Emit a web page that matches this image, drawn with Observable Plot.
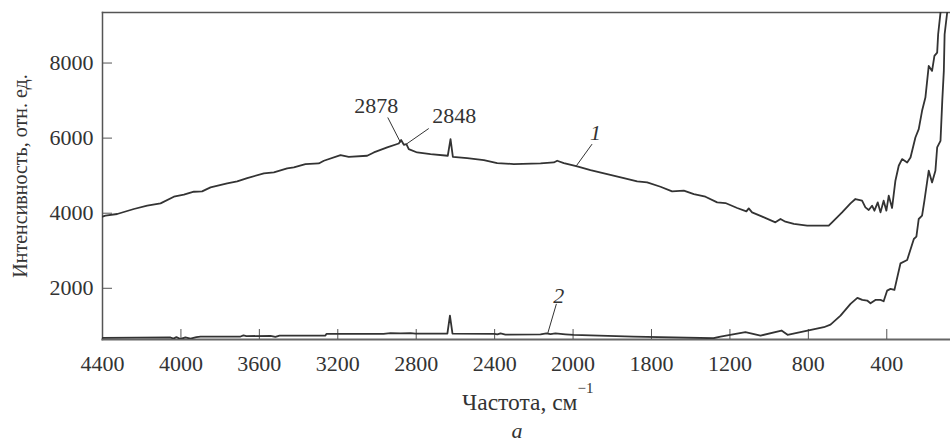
<!DOCTYPE html>
<html><head><meta charset="utf-8">
<script src="https://cdn.jsdelivr.net/npm/d3@7"></script>
<script src="https://cdn.jsdelivr.net/npm/@observablehq/plot@0.6"></script>
<style>
html,body{margin:0;padding:0;background:#fff}
svg{display:block}
#chart svg, #chart svg text{font-family:"Liberation Serif","Times New Roman",serif !important}
#caption{box-sizing:border-box;width:950px;height:22px;padding-left:84px;text-align:center;
  font:italic 22px/22px "Liberation Serif","Times New Roman",serif;color:#333}
</style>
</head><body><div id="chart"></div><div id="caption"></div>
<script>
// Tick values and their printed labels (the original prints "1800" at the 1600 position)
const xTicks = [4400, 4000, 3600, 3200, 2800, 2400, 2000, 1600, 1200, 800, 400];
const xTickLabels = ["4400", "4000", "3600", "3200", "2800", "2400", "2000", "1800", "1200", "800", "400"];
const yTicks = [2000, 4000, 6000, 8000];

// Curve 1: wavenumber (cm-1) and intensity
const curve1Wave = [4400,4385,4325,4240,4172,4104,4036,3985,3934,3892,3849,3764,3713,3662,3577,3526,3458,3424,3365,3297,3271,3186,3144,3050,3016,2948,2889,2877,2863,2850,2838,2795,2727,2639,2625,2613,2540,2455,2387,2302,2166,2098,2081,2047,1979,1911,1826,1741,1673,1622,1554,1495,1435,1384,1325,1265,1223,1163,1116,1104,1087,1035,968,942,917,874,806,696,679,628,585,560,526,509,492,475,463,446,432,416,402,390,373,356,339,322,296,279,254,237,220,203,186,169,157,143,138,126,116];
const curve1Int  = [3907,3934,3979,4112,4200,4261,4439,4492,4572,4580,4687,4793,4846,4937,5059,5086,5192,5219,5308,5325,5397,5548,5503,5530,5618,5751,5857,5948,5822,5841,5708,5618,5575,5530,5974,5503,5468,5415,5336,5309,5325,5352,5397,5336,5245,5149,5043,4937,4846,4820,4705,4580,4599,4511,4439,4288,4271,4139,4048,4128,4022,3907,3756,3846,3774,3713,3668,3668,3756,4022,4261,4378,4333,4155,4085,4200,4067,4288,4022,4333,4067,4466,4139,4865,5264,5442,5352,5485,6017,6240,6727,7081,7924,7791,8190,8278,8767,9342,10000];

// Curve 2
const curve2Wave = [4400,4053,4038,4023,4002,3977,3951,3921,3900,3696,3681,3666,3543,3518,3497,3263,3258,2967,2931,2880,2829,2804,2641,2628,2615,2401,2386,2370,2345,2166,2136,2115,2090,2039,1998,1692,1284,1248,1121,1044,937,906,721,687,636,585,550,525,500,483,458,432,416,398,381,361,330,296,262,249,237,220,208,186,169,152,143,126,117,109,105,92,85];
const curve2Int  = [680,690,660,700,650,690,660,700,715,715,745,725,735,705,740,742,787,787,805,800,805,795,790,1274,790,787,770,800,768,770,800,780,800,775,759,715,670,715,830,740,875,760,963,1034,1274,1585,1745,1691,1673,1601,1691,1691,1654,1939,1984,1957,2665,2755,3314,3375,3846,3934,4333,5131,4820,5131,5751,5929,6993,7791,8767,9342,10000];

// Annotations (data coordinates)
const peakLabels = ["2878", "2848"];
const peakLabelX = [3004, 2606];
const peakLabelY = [6860, 6594];
const curveLabels = ["1", "2"];
const curveLabelX = [1886, 2073];
const curveLabelY = [6150, 1806];
const leaderX1 = [2945, 2736, 1903, 2085];
const leaderY1 = [6549, 6256, 5841, 1585];
const leaderX2 = [2880, 2850, 1983, 2129];
const leaderY2 = [5884, 5841, 5264, 803];

const xLabel = "Частота, см";
const xLabelSup = "−1";
const yLabel = "Интенсивность, отн. ед.";
const panelLabel = "а";

const rows = [
  ...curve1Wave.map((w, i) => ({w, v: curve1Int[i], s: "1"})),
  ...curve2Wave.map((w, i) => ({w, v: curve2Int[i], s: "2"}))
];
const peaks = peakLabels.map((t, i) => ({t, x: peakLabelX[i], y: peakLabelY[i]}));
const curves = curveLabels.map((t, i) => ({t, x: curveLabelX[i], y: curveLabelY[i]}));
const leaders = leaderX1.map((x1, i) => ({x1, y1: leaderY1[i], x2: leaderX2[i], y2: leaderY2[i]}));

const font = '"Liberation Serif", "Times New Roman", serif';
const ink = "#333";

const chart = Plot.plot({
  width: 950, height: 420,
  marginLeft: 102, marginRight: 0, marginTop: 12, marginBottom: 81,
  style: {fontFamily: font, fontSize: "22px", color: ink, background: "#fff"},
  x: {domain: [4400, 75], label: null},
  y: {domain: [636, 9346], label: null},
  marks: [
    Plot.frame({anchor: "top", stroke: "#555", strokeWidth: 1.5}),
    Plot.frame({anchor: "left", stroke: "#555", strokeWidth: 1.5}),
    Plot.frame({anchor: "bottom", stroke: "#666", strokeWidth: 2.2}),
    Plot.axisX({ticks: xTicks, tickSize: -10, tickPadding: 25.5, stroke: "#555",
      tickFormat: d => xTickLabels[xTicks.indexOf(d)], fontSize: 22, fontFamily: font, label: null}),
    Plot.axisY({ticks: yTicks, tickSize: -10, tickPadding: 19, stroke: "#555",
      tickFormat: d => String(d), fontSize: 22, fontFamily: font, label: null}),
    Plot.line(rows, {x: "w", y: "v", z: "s", stroke: ink, strokeWidth: 1.8, clip: true}),
    Plot.link(leaders, {x1: "x1", y1: "y1", x2: "x2", y2: "y2", stroke: ink, strokeWidth: 1}),
    Plot.text(peaks, {x: "x", y: "y", text: "t", fontSize: 22, fontFamily: font, fill: ink}),
    Plot.text(curves, {x: "x", y: "y", text: "t", fontSize: 22, fontFamily: font, fontStyle: "italic", fill: ink}),
    Plot.text([xLabel], {text: d => d, frameAnchor: "bottom", textAnchor: "end", lineAnchor: "middle", dx: 51, dy: 62.5, fontSize: 23.5, fontFamily: font, fill: ink}),
    Plot.text([xLabelSup], {text: d => d, frameAnchor: "bottom", textAnchor: "start", lineAnchor: "middle", dx: 51, dy: 49, fontSize: 15, fontFamily: font, fill: ink}),
    Plot.text([yLabel], {text: d => d, frameAnchor: "left", textAnchor: "middle", lineAnchor: "middle", rotate: -90, dx: -82, fontSize: 20, fontFamily: font, fill: ink})
  ]
});
document.getElementById("chart").appendChild(chart);
document.getElementById("caption").textContent = panelLabel;
</script>
</body></html>
